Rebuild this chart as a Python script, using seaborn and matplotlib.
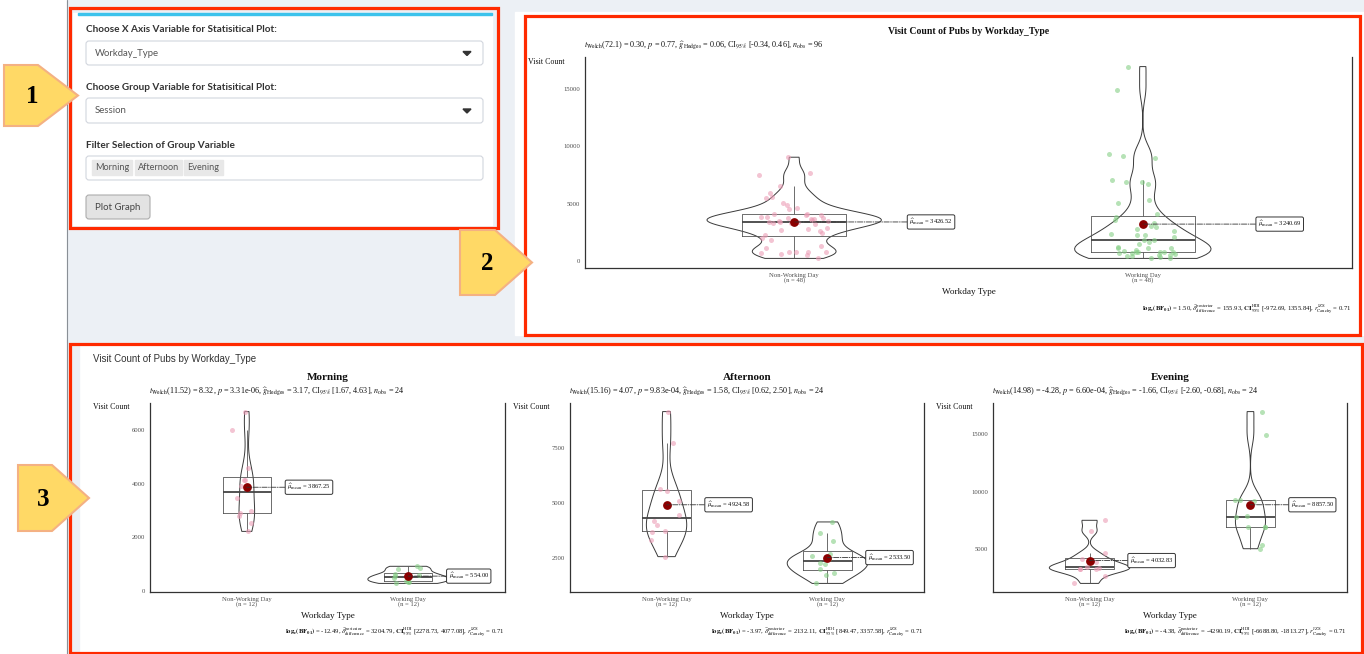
import numpy as np
import pandas as pd
import matplotlib
matplotlib.use("Agg")
import matplotlib.pyplot as plt
import seaborn as sns
from matplotlib.patches import Rectangle, FancyBboxPatch, Polygon
from matplotlib.ticker import MultipleLocator

# ---------------- data ----------------
workday_types = ["Non-Working Day", "Working Day"]
sessions = ["Morning", "Afternoon", "Evening"]

all_nonworking = [9053, 7673, 7472, 6581, 5949, 5518, 5604, 5087, 4857, 4598, 4570, 4138,
                  4138, 4023, 3851, 4023, 3794, 3420, 3420, 3363, 3276, 2931, 2759, 2788,
                  2615, 2500, 2270, 2069, 1839, 1351, 1207, 833, 833, 776, 776, 632,
                  575, 259, 718, 3600, 3550, 3700, 3480, 3650, 3900, 3300, 3750, 3404]
all_working = [16928, 14916, 9312, 9024, 9168, 6869, 6898, 7099, 6754, 5087, 5374, 4081,
               3593, 2845, 2989, 2299, 2414, 2270, 1839, 1868, 2155, 1696, 1121, 1121,
               1293, 833, 833, 718, 776, 718, 833, 546, 546, 259, 345, 489,
               431, 259, 833, 632, 3300, 3100, 3900, 2600, 1500, 1200, 1000, 889]
all_means = [3426.52, 3240.69]

morning_nonworking = [6687, 5988, 4577, 4147, 4147, 3913, 3472, 2982, 2920, 2798, 2552, 2221]
morning_working = [282, 344, 810, 920, 860, 319, 590, 560, 450, 500, 380, 640]
morning_means = [3867.25, 554.00]

afternoon_nonworking = [9147, 7740, 5644, 5554, 5075, 4439, 4177, 3997, 3698, 3728, 3323, 2575]
afternoon_working = [4147, 3653, 3278, 2700, 2600, 2480, 2305, 2231, 2036, 1856, 1751, 1362]
afternoon_means = [4924.58, 2533.50]

evening_nonworking = [7514, 6571, 4657, 3914, 3286, 3343, 2714, 2057, 4143, 3514, 3400, 3286]
evening_working = [16914, 14914, 9229, 9143, 9286, 7848, 7800, 6914, 6914, 6900, 5057, 5371]
evening_means = [4032.83, 8857.50]

# Welch t-test results: df, t, p, g, CI, n
welch_stats = [("72.1", "0.30", "0.77", "0.06", "[-0.34, 0.46]", "96"),
               ("11.52", "8.32", "3.31e-06", "3.17", "[1.67, 4.63]", "24"),
               ("15.16", "4.07", "9.83e-04", "1.58", "[0.62, 2.50]", "24"),
               ("14.98", "-4.28", "6.60e-04", "-1.66", "[-2.60, -0.68]", "24")]
# Bayes results: logBF01, posterior difference, HDI, r
bayes_stats = [("1.50", "155.93", "[-972.69, 1355.84]", "0.71"),
               ("-12.49", "3204.79", "[2278.73, 4077.08]", "0.71"),
               ("-3.97", "2132.11", "[849.47, 3357.58]", "0.71"),
               ("-4.38", "-4290.19", "[-6688.80, -1813.27]", "0.71")]

ui_labels = ["Choose X Axis Variable for Statisitical Plot:",
             "Choose Group Variable for Statisitical Plot:",
             "Filter Selection of Group Variable"]
ui_selected = ["Workday_Type", "Session"]
button_text = "Plot Graph"
main_title = "Visit Count of Pubs by Workday_Type"

# ---------------- style ----------------
sns.set_style("white")
plt.rcParams["font.family"] = ["Liberation Serif", "DejaVu Serif"]
plt.rcParams["mathtext.fontset"] = "stix"

W, H = 1364, 654
fig = plt.figure(figsize=(W / 100, H / 100), dpi=100)

bg = fig.add_axes([0, 0, 1, 1], zorder=0)
bg.set_xlim(0, W); bg.set_ylim(H, 0); bg.axis("off")
ov = fig.add_axes([0, 0, 1, 1], zorder=10)
ov.set_xlim(0, W); ov.set_ylim(H, 0); ov.axis("off"); ov.patch.set_alpha(0)

GRAY_BG = "#ecf0f5"
RED = "#ff2a00"

# background layout
bg.add_patch(Rectangle((0, 0), W, H, color="white"))
bg.add_patch(Rectangle((67, 0), W - 67, 342, color=GRAY_BG))
bg.add_patch(Rectangle((67, 340), 12, H - 340, color=GRAY_BG))
bg.add_patch(Rectangle((73, 13), 419, 212, color="white"))
bg.add_patch(Rectangle((78, 12.5), 414, 2.5, color="#3cc3ec"))
bg.add_patch(Rectangle((515, 12), 849, 323, color="white"))
bg.plot([66.5, 66.5], [0, H], color="#8a8f96", lw=0.8)

# UI widgets
ui_font = ["Lato", "DejaVu Sans"]
label_y = [30, 88, 145]
for txt, y in zip(ui_labels, label_y):
    bg.text(86, y, txt, fontsize=7.2, fontweight="bold", color="#333333",
            family=ui_font, va="center", ha="left")
for txt, (y0, y1) in zip(ui_selected, [(41, 65), (98, 123)]):
    bg.add_patch(FancyBboxPatch((86, y0), 397, y1 - y0, boxstyle="round,pad=0,rounding_size=3",
                                fc="white", ec="#d2d6de", lw=0.8))
    bg.text(95, (y0 + y1) / 2, txt, fontsize=6.9, color="#555555", family=ui_font,
            va="center", ha="left")
    cy = (y0 + y1) / 2
    bg.add_patch(Polygon([(463, cy - 1.5), (471, cy - 1.5), (467, cy + 2.5)], color="#333333"))
bg.add_patch(FancyBboxPatch((86, 156), 397, 24, boxstyle="round,pad=0,rounding_size=3",
                            fc="white", ec="#d2d6de", lw=0.8))
chip_x = [(92, 132), (135, 182), (184, 223)]
for s, (x0, x1) in zip(sessions, chip_x):
    bg.add_patch(Rectangle((x0, 160), x1 - x0, 15, color="#e8e8e8"))
    bg.text((x0 + x1) / 2, 168, s, fontsize=6.6, color="#555555", family=ui_font,
            va="center", ha="center")
bg.add_patch(FancyBboxPatch((86, 195), 64, 24, boxstyle="round,pad=0,rounding_size=3",
                            fc="#e3e3e3", ec="#adadad", lw=0.8))
bg.text(118, 207.5, button_text, fontsize=6.9, color="#444444", family=ui_font,
        va="center", ha="center")

# bottom panel heading
bg.text(93, 359, main_title, fontsize=7, color="#333333",
        family=["Liberation Sans", "DejaVu Sans"], va="center", ha="left")

# ---------------- charts ----------------
point_colors = ["#ec9db6", "#86cf86"]


def nrd0(kde):
    """R's default bandwidth rule (bw.nrd0), as a factor of the sample sd."""
    x = np.asarray(kde.dataset).ravel()
    sd = x.std(ddof=1)
    q75, q25 = np.percentile(x, [75, 25])
    lo = min(sd, (q75 - q25) / 1.34) if q75 > q25 else sd
    h = 0.9 * lo * len(x) ** -0.2
    return h / sd


def make_frame(nonwork, work):
    return pd.DataFrame({
        "Workday_Type": [workday_types[0]] * len(nonwork) + [workday_types[1]] * len(work),
        "Visit_Count": list(nonwork) + list(work),
    })


def draw_chart(box, nonwork, work, means, ystep, title, title_y, title_size,
               welch, bayes, sub_y, xlab_y, cap_y, ylab_y, label_off, seed):
    l, t, r, b = box
    ax = fig.add_axes([l / W, 1 - b / H, (r - l) / W, (b - t) / H], zorder=2)
    df = make_frame(nonwork, work)
    np.random.seed(seed)
    sns.violinplot(data=df, x="Workday_Type", y="Visit_Count", order=workday_types,
                   cut=0, inner=None, fill=False, color="#3a3a3a", linewidth=0.7,
                   density_norm="area", width=0.5, bw_method=nrd0, ax=ax)
    sns.boxplot(data=df, x="Workday_Type", y="Visit_Count", order=workday_types,
                width=0.3, fill=False, color="#555555", linewidth=0.6, showfliers=False,
                showcaps=False, medianprops=dict(color="#444444", linewidth=1.3), ax=ax)
    for cat, col in zip(workday_types, point_colors):
        sub_df = df[df["Workday_Type"] == cat]
        sns.stripplot(data=sub_df, x="Workday_Type", y="Visit_Count", order=workday_types,
                      color=col, jitter=0.1, size=3.6, alpha=0.6, linewidth=0,
                      zorder=3, ax=ax)
    ax.scatter(range(len(workday_types)), means, s=28, color="#8b0000", zorder=6)
    for i, m in enumerate(means):
        ax.annotate(r"$\widehat{\mu}_{\mathrm{mean}}$" + f" = {m:.2f}",
                    xy=(i, m), xytext=(i + label_off, m), textcoords="data",
                    va="center", ha="left", fontsize=4.7, color="#111111",
                    bbox=dict(boxstyle="round,pad=0.3,rounding_size=0.25", fc="white",
                              ec="#333333", lw=0.7),
                    arrowprops=dict(arrowstyle="-", linestyle="-.", lw=0.6, color="#333333",
                                    shrinkA=0, shrinkB=0), zorder=7)
    vals = np.array(list(nonwork) + list(work), dtype=float)
    lo, hi = vals.min(), vals.max()
    pad = 0.05 * (hi - lo)
    ax.set_ylim(lo - pad, hi + pad)
    ax.set_xlim(-0.6, 1.6)
    ax.yaxis.set_major_locator(MultipleLocator(ystep))
    ax.yaxis.set_major_formatter(matplotlib.ticker.FuncFormatter(lambda v, p: f"{v:.0f}"))
    n_each = [len(nonwork), len(work)]
    ax.set_xticks(range(2))
    ax.set_xticklabels([f"{c}\n(n = {k})" for c, k in zip(workday_types, n_each)],
                       linespacing=0.85)
    ax.set_xlabel(""); ax.set_ylabel("")
    ax.tick_params(axis="both", length=2, width=0.5, colors="#4d4d4d", labelsize=4.8, pad=1.5)
    for side in ["left", "bottom", "right"]:
        ax.spines[side].set_visible(True)
        ax.spines[side].set_color("#333333")
        ax.spines[side].set_linewidth(0.9)
    ax.spines["top"].set_visible(False)
    ax.set_facecolor("white")

    cx = (l + r) / 2
    ov.text(cx, title_y, title, fontsize=title_size, fontweight="bold", ha="center",
            va="center", color="#111111")
    dfw, tv, pv, gv, ci, nobs = welch
    sub = (r"$t_{\mathrm{Welch}}$" + f"({dfw}) = {tv}, " + r"$p$" + f" = {pv}, "
           + r"$\widehat{g}_{\mathrm{Hedges}}$" + f" = {gv}, " + r"CI$_{95\%}$" + f" {ci}, "
           + r"$n_{\mathrm{obs}}$" + f" = {nobs}")
    ov.text(l - 1, sub_y, sub, fontsize=5.9, ha="left", va="center", color="#111111")
    ov.text(l - 20, ylab_y, "Visit Count", fontsize=5.7, ha="right", va="center", color="#111111")
    ov.text(cx, xlab_y, "Workday Type", fontsize=6.6, ha="center", va="center", color="#111111")
    bf, post, hdi, rj = bayes
    cap = (r"$\mathbf{log_e(BF_{01})}$" + f" = {bf}, "
           + r"$\widehat{\delta}_{\mathrm{difference}}^{\mathrm{posterior}}$" + f" = {post}, "
           + r"$\mathbf{CI}_{95\%}^{\mathrm{HDI}}$" + f" {hdi}, "
           + r"$r_{\mathrm{Cauchy}}^{\mathrm{JZS}}$" + f" = {rj}")
    ov.text(r, cap_y, cap, fontsize=4.8, ha="right", va="center", color="#111111")
    return ax


draw_chart((585, 57, 1352, 268), all_nonworking, all_working, all_means, 5000,
           main_title, 31, 7, welch_stats[0], bayes_stats[0],
           46, 292, 309, 62, 0.33, 1)
bottom_boxes = [(150, 403, 505, 592), (570, 403, 924, 592), (993, 403, 1347, 592)]
bottom_data = [(morning_nonworking, morning_working, morning_means, 2000),
               (afternoon_nonworking, afternoon_working, afternoon_means, 2500),
               (evening_nonworking, evening_working, evening_means, 5000)]
for k, (bx, (nw, wk, mn, st)) in enumerate(zip(bottom_boxes, bottom_data)):
    draw_chart(bx, nw, wk, mn, st, sessions[k], 377, 8,
               welch_stats[k + 1], bayes_stats[k + 1],
               392, 616, 632, 407, 0.25, k + 2)

# ---------------- overlay: red boxes and callouts ----------------
for (x0, y0, x1, y1) in [(69.5, 7.5, 497.5, 227.5), (525, 16, 1359.5, 334.5),
                         (69.5, 343.5, 1361.5, 652.5)]:
    ov.add_patch(Rectangle((x0, y0), x1 - x0, y1 - y0, fill=False, ec=RED, lw=2.3))

callouts = [("1", 4, 65, 38, 78, 126, 32), ("2", 460, 230, 495, 532, 295, 487),
            ("3", 18, 465, 52, 89, 531, 43)]
for num, x0, y0, xm, xt, y1, tx in callouts:
    ym = (y0 + y1) / 2
    ov.add_patch(Polygon([(x0, y0), (xm, y0), (xt, ym), (xm, y1), (x0, y1)], closed=True,
                         fc="#ffd966", ec="#f4b183", lw=1.5))
    ov.text(tx, ym + 1, num, fontsize=18, fontweight="bold", ha="center",
            va="center", color="black")

fig.savefig("out.png", dpi=100)
